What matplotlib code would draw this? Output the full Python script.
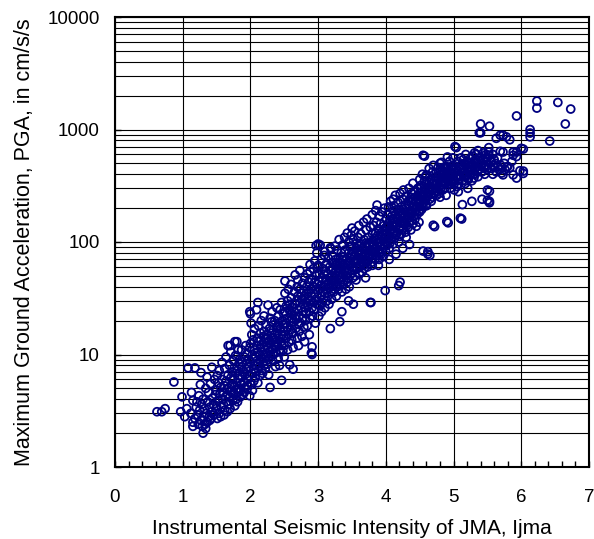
import matplotlib.pyplot as plt
from matplotlib.ticker import FuncFormatter, LogLocator, MultipleLocator, NullFormatter

# Intensity (Ijma) vs. peak ground acceleration (cm/s/s), one pair of lists per intensity range
ijma_a = [
    0.62, 0.69, 0.74, 0.87, 0.97, 0.99, 1.03, 1.06, 1.08, 1.12,
    1.13, 1.15, 1.15, 1.15, 1.18, 1.18, 1.20, 1.21, 1.22, 1.23,
    1.24, 1.25, 1.26, 1.27, 1.27, 1.28, 1.29, 1.30, 1.30, 1.31,
    1.32, 1.33, 1.34, 1.34, 1.35, 1.36, 1.36, 1.37, 1.38, 1.39,
    1.40, 1.40, 1.41, 1.42, 1.43, 1.43, 1.44, 1.45, 1.46, 1.47,
    1.48, 1.49,
]
pga_a = [
    3.1, 3.1, 3.3, 5.7, 3.1, 4.2, 2.8, 3.3, 7.6, 3.0,
    4.6, 3.9, 2.3, 2.5, 7.6, 2.7, 3.4, 3.8, 2.9, 2.4,
    4.3, 3.2, 5.4, 6.9, 2.6, 3.6, 2.3, 2.0, 4.0, 2.8,
    3.3, 2.4, 5.0, 2.2, 3.0, 2.5, 6.3, 3.8, 4.6, 2.8,
    3.4, 2.6, 5.5, 2.7, 7.7, 3.1, 4.1, 3.6, 2.9, 6.0,
    4.4, 3.3,
]

ijma_b = [
    1.50, 1.51, 1.50, 1.51,
    1.52, 1.53,
    1.54, 1.55, 1.54,
    1.56, 1.57, 1.56,
    1.58, 1.59, 1.58,
    1.60, 1.61, 1.60, 1.61,
    1.62, 1.63, 1.62,
    1.64, 1.65, 1.64, 1.65,
    1.66, 1.67, 1.66, 1.67,
    1.68, 1.69, 1.68,
    1.70, 1.71, 1.70, 1.71, 1.70,
    1.72, 1.73, 1.72,
    1.74, 1.75, 1.74, 1.75,
    1.76, 1.77, 1.76, 1.77,
    1.78, 1.79, 1.78, 1.79,
    1.80, 1.81, 1.80, 1.80,
    1.82, 1.83, 1.82, 1.83, 1.82,
    1.84, 1.85, 1.84,
    1.86, 1.87, 1.86, 1.87,
    1.88, 1.89, 1.88,
    1.90, 1.91, 1.90, 1.91,
    1.92, 1.93, 1.92,
    1.94, 1.95, 1.94, 1.95,
    1.96, 1.97, 1.96,
    1.98, 1.99, 1.98, 1.99,
]
pga_b = [
    4.8, 2.7, 3.5, 6.5,
    3.9, 5.6,
    3.0, 4.5, 7.2,
    5.1, 3.4, 2.8,
    6.0, 4.0, 8.5,
    3.6, 5.3, 4.6, 2.9,
    7.5, 4.2, 3.2,
    5.8, 3.8, 9.5, 4.9,
    3.1, 6.6, 4.4, 12.0,
    5.0, 8.0, 3.6,
    4.2, 6.2, 3.3, 10.5, 12.0,
    5.4, 7.0, 4.7,
    3.9, 8.8, 6.0, 4.5,
    5.2, 3.5, 7.6, 13.0,
    6.8, 4.9, 9.8, 4.0,
    5.6, 3.8, 7.2, 13.0,
    4.6, 8.3, 6.1, 5.0, 11.0,
    9.0, 4.2, 6.5,
    5.4, 7.8, 4.8, 11.0,
    6.3, 4.4, 8.6,
    5.7, 9.5, 7.0, 4.6,
    6.6, 12.0, 5.1,
    8.2, 4.9, 7.4, 10.2,
    6.0, 9.0, 5.3,
    7.8, 11.5, 6.4, 4.3,
]

ijma_c = [
    2.00, 2.01, 2.00, 2.00, 2.01, 1.99,
    2.02, 2.03, 2.02, 2.03,
    2.04, 2.05, 2.04, 2.05,
    2.06, 2.07, 2.06, 2.07,
    2.08, 2.09, 2.08, 2.09,
    2.10, 2.11, 2.10, 2.11, 2.11,
    2.12, 2.13, 2.12, 2.13,
    2.14, 2.15, 2.14, 2.15,
    2.16, 2.17, 2.16, 2.17,
    2.18, 2.19, 2.18, 2.19,
    2.20, 2.21, 2.20, 2.21, 2.20,
    2.22, 2.23, 2.22, 2.23,
    2.24, 2.25, 2.24, 2.25,
    2.26, 2.26, 2.27, 2.26, 2.27,
    2.28, 2.29, 2.28, 2.29,
    2.30, 2.29, 2.31, 2.30, 2.31,
    2.32, 2.33, 2.32, 2.33,
    2.34, 2.35, 2.34, 2.35,
    2.36, 2.37, 2.36, 2.37,
    2.38, 2.39, 2.38, 2.39,
    2.40, 2.41, 2.40, 2.41, 2.40,
    2.42, 2.43, 2.42, 2.43,
    2.44, 2.45, 2.44, 2.45,
    2.46, 2.46, 2.47, 2.46, 2.47,
    2.48, 2.49, 2.48, 2.49,
]
pga_c = [
    8.5, 5.4, 12.5, 23.0, 19.0, 24.0,
    6.8, 10.0, 15.0, 4.8,
    9.2, 7.4, 13.5, 5.8,
    11.0, 8.0, 17.0, 6.2,
    7.0, 12.0, 9.6, 25.0,
    10.5, 5.6, 14.0, 8.4, 29.0,
    13.0, 7.8, 18.0, 9.9,
    6.5, 11.5, 8.8, 15.5,
    12.2, 9.3, 20.0, 7.2,
    10.0, 14.5, 6.8, 8.6,
    16.0, 11.0, 8.0, 12.8, 22.0,
    9.5, 13.8, 7.5, 18.5,
    12.0, 10.2, 15.0, 8.2,
    14.0, 27.5, 9.0, 11.5, 6.6,
    17.0, 10.8, 13.2, 21.0,
    12.5, 5.1, 15.5, 9.8, 19.5,
    11.0, 14.0, 24.0, 8.8,
    16.5, 12.0, 10.0, 13.5,
    20.0, 11.8, 15.0, 7.8,
    13.0, 17.5, 10.4, 26.0,
    15.5, 9.2, 12.5, 22.0, 18.0,
    14.0, 11.0, 19.0, 8.0,
    17.0, 13.0, 25.0, 10.5,
    29.0, 5.9, 15.0, 12.0, 20.0,
    18.5, 14.5, 10.8, 23.0,
]

ijma_d = [
    2.50, 2.51, 2.50, 2.51, 2.50,
    2.52, 2.53, 2.51, 2.53,
    2.54, 2.55, 2.54, 2.55,
    2.56, 2.57, 2.56, 2.57,
    2.58, 2.59, 2.58, 2.59,
    2.60, 2.61, 2.60, 2.61, 2.60,
    2.62, 2.63, 2.62, 2.63,
    2.64, 2.65, 2.63, 2.65,
    2.66, 2.67, 2.66, 2.67,
    2.68, 2.69, 2.68, 2.69,
    2.70, 2.71, 2.70, 2.71, 2.70,
    2.72, 2.73, 2.72, 2.73,
    2.73, 2.75, 2.74, 2.75,
    2.76, 2.77, 2.76, 2.77,
    2.78, 2.79, 2.78, 2.79,
    2.80, 2.81, 2.80, 2.81, 2.80,
    2.82, 2.83, 2.82, 2.83,
    2.84, 2.85, 2.84, 2.85,
    2.86, 2.87, 2.86, 2.87,
    2.88, 2.88, 2.89, 2.88, 2.89,
    2.90, 2.91, 2.90, 2.91, 2.90,
    2.91, 2.93, 2.92, 2.93, 2.92,
    2.94, 2.95, 2.94, 2.95,
    2.96, 2.97, 2.96, 2.97,
    2.98, 2.97, 2.99, 2.98, 2.99,
]
pga_d = [
    16.0, 24.0, 12.0, 35.0, 9.5,
    19.0, 14.0, 45.0, 27.0,
    21.0, 11.0, 17.5, 30.0,
    15.0, 25.0, 38.0, 12.8,
    8.1, 20.0, 28.0, 16.5,
    23.0, 13.5, 32.0, 18.0, 42.0,
    26.0, 15.5, 21.0, 11.5,
    19.5, 36.0, 7.4, 24.0,
    51.0, 17.0, 28.0, 22.0,
    30.0, 14.0, 20.5, 40.0,
    25.0, 18.5, 33.0, 12.0, 46.0,
    22.0, 29.0, 16.0, 38.0,
    56.0, 26.0, 19.0, 35.0,
    31.0, 21.0, 14.5, 43.0,
    24.0, 37.0, 28.0, 17.5,
    33.0, 20.0, 48.0, 26.0, 13.0,
    29.0, 40.0, 23.0, 35.0,
    18.0, 31.0, 52.0, 27.0,
    36.0, 24.0, 44.0, 15.0,
    63.0, 55.0, 30.0, 21.0, 38.0,
    10.3, 11.7, 33.0, 26.0, 47.0,
    10.0, 40.0, 29.0, 58.0, 22.0,
    35.0, 68.0, 25.0, 44.0,
    31.0, 50.0, 19.0, 38.0,
    80.0, 93.0, 42.0, 28.0, 60.0,
]

ijma_e = [
    3.00, 3.01, 3.00, 3.01, 3.00,
    3.02, 3.03, 3.02, 3.03,
    3.04, 3.05, 3.04, 3.05,
    3.06, 3.07, 3.06, 3.07,
    3.08, 3.09, 3.08, 3.09,
    3.10, 3.11, 3.10, 3.11, 3.10,
    3.12, 3.13, 3.12, 3.13,
    3.14, 3.15, 3.14, 3.15,
    3.16, 3.17, 3.16, 3.17,
    3.18, 3.18, 3.19, 3.18, 3.19,
    3.19, 3.21, 3.20, 3.21, 3.20,
    3.22, 3.23, 3.22, 3.23,
    3.24, 3.25, 3.24, 3.25,
    3.26, 3.27, 3.26, 3.27,
    3.28, 3.29, 3.28, 3.29,
    3.30, 3.31, 3.30, 3.31, 3.30,
    3.32, 3.33, 3.32, 3.33,
    3.34, 3.34, 3.35, 3.34, 3.35, 3.35,
    3.36, 3.37, 3.36, 3.37,
    3.38, 3.39, 3.38, 3.39,
    3.40, 3.41, 3.40, 3.41, 3.40,
    3.42, 3.43, 3.42, 3.43,
    3.44, 3.45, 3.44, 3.45, 3.45,
    3.46, 3.47, 3.46, 3.47,
    3.48, 3.49, 3.48, 3.49,
]
pga_e = [
    30.0, 45.0, 96.0, 22.0, 62.0,
    38.0, 27.0, 52.0, 94.0,
    33.0, 70.0, 41.0, 24.0,
    48.0, 36.0, 29.0, 58.0,
    40.0, 76.0, 31.0, 52.0,
    35.0, 55.0, 26.0, 44.0, 82.0,
    46.0, 38.0, 64.0, 30.0,
    52.0, 42.0, 33.0, 72.0,
    39.0, 60.0, 28.0, 48.0,
    89.0, 17.0, 44.0, 56.0, 36.0,
    87.0, 50.0, 40.0, 66.0, 31.0,
    58.0, 45.0, 75.0, 36.0,
    48.0, 62.0, 38.0, 92.0,
    55.0, 42.0, 70.0, 33.0,
    64.0, 50.0, 85.0, 40.0,
    46.0, 58.0, 38.0, 105.0, 72.0,
    19.6, 54.0, 66.0, 44.0,
    60.0, 80.0, 24.0, 48.0, 36.0, 70.0,
    52.0, 95.0, 62.0, 42.0,
    74.0, 56.0, 46.0, 110.0,
    64.0, 50.0, 85.0, 38.0, 58.0,
    70.0, 120.0, 55.0, 44.0,
    62.0, 80.0, 48.0, 100.0, 30.0,
    58.0, 72.0, 40.0, 90.0,
    66.0, 115.0, 52.0, 78.0,
]

ijma_f = [
    3.50, 3.51, 3.50, 3.51, 3.50,
    3.52, 3.53, 3.52, 3.53, 3.52,
    3.54, 3.55, 3.54, 3.55,
    3.56, 3.57, 3.56, 3.57,
    3.58, 3.59, 3.58, 3.59,
    3.60, 3.61, 3.60, 3.61, 3.60,
    3.62, 3.63, 3.62, 3.63,
    3.64, 3.65, 3.64, 3.65,
    3.66, 3.67, 3.66, 3.67,
    3.68, 3.69, 3.68, 3.69,
    3.70, 3.71, 3.70, 3.71, 3.70,
    3.72, 3.73, 3.72, 3.73,
    3.74, 3.75, 3.74, 3.75,
    3.76, 3.77, 3.76, 3.77,
    3.78, 3.79, 3.78, 3.79,
    3.80, 3.81, 3.80, 3.81, 3.80,
    3.82, 3.83, 3.82, 3.83,
    3.84, 3.85, 3.84, 3.85,
    3.86, 3.87, 3.86, 3.87, 3.87,
    3.88, 3.89, 3.88, 3.89,
    3.90, 3.91, 3.90, 3.91, 3.90,
    3.92, 3.93, 3.92, 3.93,
    3.94, 3.95, 3.94, 3.95,
    3.96, 3.97, 3.96, 3.97,
    3.98, 3.99, 3.98, 3.99, 3.99,
]
pga_f = [
    133.0, 60.0, 74.0, 48.0, 92.0,
    28.0, 68.0, 82.0, 56.0, 105.0,
    75.0, 60.0, 125.0, 50.0,
    88.0, 66.0, 46.0, 98.0,
    70.0, 110.0, 58.0, 80.0,
    62.0, 92.0, 140.0, 52.0, 76.0,
    84.0, 70.0, 60.0, 118.0,
    96.0, 54.0, 78.0, 66.0,
    74.0, 150.0, 88.0, 62.0,
    105.0, 70.0, 58.0, 92.0,
    80.0, 128.0, 66.0, 98.0, 48.0,
    90.0, 74.0, 160.0, 60.0,
    110.0, 84.0, 68.0, 96.0,
    76.0, 135.0, 92.0, 29.0,
    29.0, 100.0, 82.0, 66.0,
    118.0, 90.0, 175.0, 72.0, 62.0,
    96.0, 80.0, 140.0, 108.0,
    86.0, 120.0, 70.0, 190.0,
    104.0, 92.0, 150.0, 76.0, 213.0,
    115.0, 84.0, 98.0, 62.0,
    130.0, 100.0, 170.0, 80.0, 70.0,
    92.0, 112.0, 145.0, 78.0,
    122.0, 96.0, 185.0, 86.0,
    105.0, 140.0, 74.0, 118.0,
    125.0, 92.0, 200.0, 110.0, 37.0,
]

ijma_g = [
    4.00, 4.01, 4.00, 4.01, 4.00,
    4.02, 4.03, 4.02, 4.03,
    4.04, 4.05, 4.04, 4.05, 4.05,
    4.06, 4.07, 4.06, 4.07,
    4.08, 4.09, 4.08, 4.09,
    4.10, 4.11, 4.10, 4.11, 4.10, 4.11,
    4.12, 4.13, 4.12, 4.13,
    4.14, 4.15, 4.14, 4.15, 4.15,
    4.16, 4.17, 4.16, 4.17,
    4.18, 4.19, 4.18, 4.19, 4.19,
    4.20, 4.21, 4.20, 4.21, 4.20, 4.21,
    4.22, 4.23, 4.22, 4.23,
    4.24, 4.25, 4.24, 4.25, 4.25,
    4.26, 4.27, 4.26, 4.27,
    4.28, 4.29, 4.28, 4.29,
    4.30, 4.31, 4.30, 4.31, 4.30,
    4.32, 4.33, 4.32, 4.33,
    4.34, 4.35, 4.34, 4.35, 4.35,
    4.36, 4.37, 4.36, 4.37,
    4.38, 4.39, 4.38, 4.39,
    4.40, 4.41, 4.40, 4.41, 4.40,
    4.42, 4.43, 4.42, 4.43,
    4.44, 4.45, 4.44, 4.45,
    4.46, 4.47, 4.46, 4.47,
    4.48, 4.49, 4.48, 4.49,
]
pga_g = [
    135.0, 100.0, 82.0, 160.0, 115.0,
    120.0, 175.0, 94.0, 145.0,
    110.0, 140.0, 205.0, 88.0, 70.0,
    155.0, 125.0, 98.0, 230.0,
    130.0, 170.0, 105.0, 146.0,
    118.0, 190.0, 140.0, 96.0, 160.0, 240.0,
    150.0, 122.0, 210.0, 108.0,
    175.0, 136.0, 260.0, 115.0, 78.0,
    142.0, 195.0, 120.0, 165.0,
    160.0, 130.0, 225.0, 100.0, 41.0,
    185.0, 150.0, 128.0, 270.0, 112.0, 44.0,
    170.0, 205.0, 138.0, 118.0,
    155.0, 240.0, 180.0, 130.0, 88.0,
    195.0, 145.0, 290.0, 165.0,
    175.0, 215.0, 150.0, 122.0,
    200.0, 160.0, 255.0, 140.0, 110.0,
    185.0, 230.0, 170.0, 135.0,
    210.0, 165.0, 300.0, 150.0, 95.0,
    190.0, 250.0, 175.0, 128.0,
    225.0, 180.0, 270.0, 155.0,
    333.0, 205.0, 240.0, 170.0, 145.0,
    215.0, 185.0, 280.0, 160.0,
    250.0, 195.0, 230.0, 138.0,
    205.0, 300.0, 175.0, 260.0,
    240.0, 190.0, 220.0, 150.0,
]

ijma_h = [
    4.50, 4.51, 4.50, 4.51, 4.50,
    4.52, 4.53, 4.52, 4.53,
    4.54, 4.55, 4.54, 4.55, 4.55, 4.55,
    4.56, 4.57, 4.56, 4.57, 4.57,
    4.58, 4.59, 4.58, 4.59,
    4.60, 4.61, 4.60, 4.61, 4.60,
    4.62, 4.62, 4.63, 4.62,
    4.64, 4.65, 4.64, 4.65, 4.65,
    4.66, 4.67, 4.66, 4.67,
    4.68, 4.69, 4.68, 4.69,
    4.70, 4.71, 4.70, 4.71, 4.70,
    4.72, 4.73, 4.72, 4.73,
    4.74, 4.75, 4.74, 4.75,
    4.76, 4.77, 4.76, 4.77,
    4.78, 4.79, 4.78, 4.79,
    4.80, 4.81, 4.80, 4.81, 4.80,
    4.82, 4.83, 4.82, 4.83,
    4.84, 4.85, 4.84, 4.85,
    4.86, 4.87, 4.86, 4.87,
    4.88, 4.89, 4.88, 4.89,
    4.90, 4.91, 4.90, 4.91, 4.91,
    4.92, 4.93, 4.92, 4.93,
    4.94, 4.95, 4.94, 4.95,
    4.96, 4.97, 4.96, 4.97,
    4.98, 4.99, 4.98, 4.99,
]
pga_h = [
    230.0, 300.0, 185.0, 270.0, 360.0,
    250.0, 210.0, 320.0, 195.0,
    280.0, 235.0, 400.0, 205.0, 83.0, 590.0,
    260.0, 310.0, 225.0, 350.0, 580.0,
    290.0, 240.0, 380.0, 215.0,
    395.0, 270.0, 330.0, 250.0, 210.0,
    78.0, 82.0, 300.0, 260.0,
    340.0, 280.0, 450.0, 240.0, 76.0,
    310.0, 265.0, 360.0, 230.0,
    290.0, 420.0, 330.0, 250.0,
    141.0, 350.0, 300.0, 270.0, 480.0,
    137.0, 380.0, 320.0, 285.0,
    410.0, 300.0, 350.0, 260.0,
    330.0, 460.0, 280.0, 380.0,
    360.0, 310.0, 420.0, 270.0,
    390.0, 340.0, 500.0, 300.0, 250.0,
    510.0, 370.0, 320.0, 430.0,
    350.0, 400.0, 290.0, 460.0,
    420.0, 330.0, 380.0, 300.0,
    380.0, 470.0, 340.0, 260.0,
    152.0, 430.0, 360.0, 400.0, 570.0,
    148.0, 390.0, 460.0, 330.0,
    420.0, 350.0, 520.0, 300.0,
    380.0, 470.0, 340.0, 440.0,
    450.0, 360.0, 410.0, 560.0,
]

ijma_i = [
    5.00, 5.01, 5.00, 5.01, 5.00,
    5.02, 5.03, 5.02,
    5.04, 5.05, 5.04, 5.05,
    5.06, 5.07, 5.06, 5.07,
    5.08, 5.09, 5.08,
    5.10, 5.11, 5.10, 5.11,
    5.12, 5.13, 5.12, 5.13, 5.13,
    5.14, 5.15, 5.14,
    5.16, 5.17, 5.16, 5.17,
    5.18, 5.19, 5.18,
    5.20, 5.21, 5.20, 5.21,
    5.22, 5.23, 5.22,
    5.24, 5.25, 5.24,
    5.26, 5.27, 5.26, 5.27,
    5.28, 5.29, 5.28,
    5.30, 5.31, 5.30, 5.31,
    5.32, 5.33, 5.32,
    5.34, 5.35, 5.34,
    5.36, 5.37, 5.36,
    5.38, 5.39, 5.38,
    5.40, 5.40, 5.41, 5.40,
    5.42, 5.43, 5.42,
    5.44, 5.45, 5.44,
    5.46, 5.47, 5.46,
    5.48, 5.49, 5.48,
    5.50, 5.50, 5.51, 5.50,
]
pga_i = [
    400.0, 330.0, 480.0, 290.0, 360.0,
    705.0, 420.0, 350.0,
    690.0, 380.0, 450.0, 310.0,
    430.0, 360.0, 520.0, 280.0,
    390.0, 470.0, 330.0,
    163.0, 440.0, 380.0, 560.0,
    160.0, 410.0, 490.0, 350.0, 215.0,
    460.0, 380.0, 540.0,
    420.0, 330.0, 500.0, 380.0,
    480.0, 400.0, 600.0,
    450.0, 370.0, 520.0, 300.0,
    500.0, 420.0, 360.0,
    470.0, 560.0, 400.0,
    430.0, 230.0, 510.0, 350.0,
    480.0, 400.0, 580.0,
    520.0, 440.0, 370.0, 620.0,
    460.0, 540.0, 400.0,
    500.0, 420.0, 600.0,
    650.0, 470.0, 380.0,
    935.0, 520.0, 440.0,
    1120.0, 935.0, 480.0, 560.0,
    240.0, 500.0, 420.0,
    540.0, 460.0, 620.0,
    480.0, 560.0, 400.0,
    520.0, 440.0, 600.0,
    235.0, 290.0, 480.0, 560.0,
]

ijma_j = [
    5.52, 5.52, 5.52, 5.53, 5.53, 5.53, 5.53,
    5.55, 5.56, 5.58, 5.59, 5.58,
    5.60, 5.61, 5.62, 5.63, 5.63,
    5.65, 5.66, 5.68, 5.69, 5.69,
    5.70, 5.71, 5.73, 5.73, 5.73,
    5.75, 5.76, 5.78, 5.79, 5.80,
    5.83, 5.83, 5.86, 5.88, 5.88, 5.88,
    5.93, 5.93, 5.93, 5.93, 5.98, 6.00,
    6.03, 6.03, 6.03, 6.13, 6.13, 6.13,
    6.23, 6.23, 6.42, 6.54, 6.65, 6.73,
]
pga_j = [
    690.0, 630.0, 590.0, 1070.0, 283.0, 230.0, 223.0,
    520.0, 450.0, 600.0, 480.0, 400.0,
    540.0, 460.0, 500.0, 835.0, 420.0,
    560.0, 470.0, 440.0, 890.0, 640.0,
    480.0, 410.0, 890.0, 630.0, 395.0,
    500.0, 440.0, 860.0, 465.0, 470.0,
    810.0, 456.0, 520.0, 630.0, 590.0, 395.0,
    1320.0, 630.0, 575.0, 370.0, 430.0, 680.0,
    670.0, 427.0, 407.0, 1000.0, 930.0, 860.0,
    1790.0, 1550.0, 790.0, 1740.0, 1120.0, 1520.0,
]

groups = [
    (ijma_a, pga_a), (ijma_b, pga_b), (ijma_c, pga_c), (ijma_d, pga_d),
    (ijma_e, pga_e), (ijma_f, pga_f), (ijma_g, pga_g), (ijma_h, pga_h),
    (ijma_i, pga_i), (ijma_j, pga_j),
]

plt.rcParams['font.family'] = ['Liberation Sans', 'DejaVu Sans']

fig = plt.figure(figsize=(5.94, 5.39), dpi=100)
ax = fig.add_axes([115 / 594, 1 - 467 / 539, 474 / 594, 450 / 539])

for xs, ys in groups:
    ax.scatter(xs, ys, s=32, facecolors='none', edgecolors='#000080',
               linewidths=1.3, zorder=3)

ax.set_yscale('log')
ax.set_xlim(0, 7)
ax.set_ylim(1, 10000)
ax.set_axisbelow(True)

ax.set_xticks(range(8))
ax.xaxis.set_minor_locator(MultipleLocator(0.2))
ax.yaxis.set_major_locator(LogLocator(base=10, numticks=10))
ax.yaxis.set_minor_locator(LogLocator(base=10, subs=range(2, 10), numticks=50))
ax.yaxis.set_major_formatter(FuncFormatter(lambda v, p: f'{v:g}'))
ax.yaxis.set_minor_formatter(NullFormatter())

ax.grid(which='major', axis='both', color='black', linewidth=0.8)
ax.grid(which='minor', axis='y', color='black', linewidth=0.8)

ax.tick_params(axis='both', which='major', direction='in', length=4,
               width=1.0, labelsize=13.5, color='black')
ax.tick_params(axis='x', which='major', pad=16)
ax.tick_params(axis='y', which='major', pad=11)
ax.tick_params(axis='x', which='minor', direction='in', length=4, width=1.0)
ax.tick_params(axis='y', which='minor', length=0)

for side in ['left', 'right', 'top', 'bottom']:
    ax.spines[side].set_linewidth(1.5)
    ax.spines[side].set_color('black')

ax.set_xlabel('Instrumental Seismic Intensity of JMA, Ijma', fontsize=15, labelpad=9)
ax.set_ylabel('Maximum Ground Acceleration, PGA, in cm/s/s', fontsize=15.5, labelpad=9)

fig.savefig('out.png', dpi=100)
